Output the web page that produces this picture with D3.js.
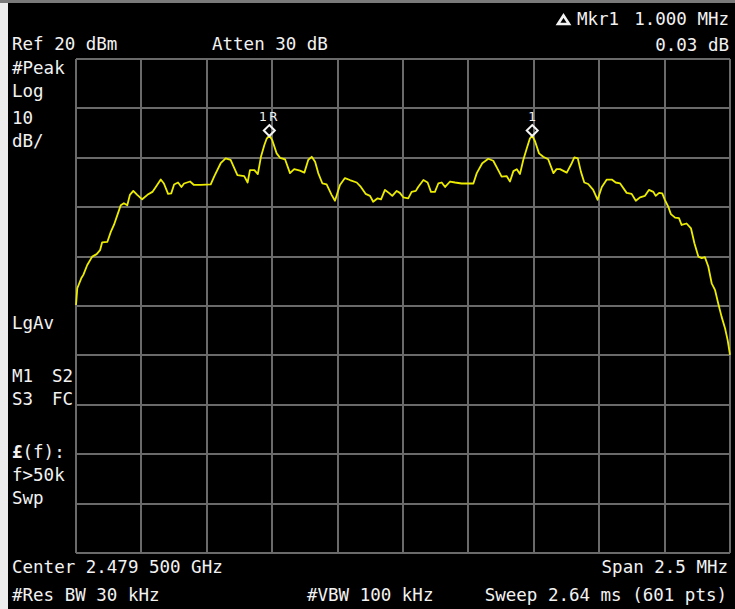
<!DOCTYPE html>
<html>
<head>
<meta charset="utf-8">
<script src="https://cdn.jsdelivr.net/npm/d3@7"></script>
<style>
html,body{margin:0;padding:0;background:#000;}
svg{display:block;}
text{font-family:"DejaVu Sans Mono","Liberation Mono",monospace;fill:#f2f2f2;white-space:pre;}
</style>
</head>
<body>
<svg id="chart" width="735" height="609"></svg>
<script>
// ---- data ----
// frequency offset from center (MHz), trace level (dBm)
const freqOffsetMHz = [
 -1.250,-1.245,-1.230,-1.222,-1.207,-1.188,-1.171,-1.158,-1.150,-1.130,-1.117,-1.105,-1.092,-1.079,-1.067,-1.054,-1.044,-1.031,-1.016,-0.997,
 -0.977,-0.958,-0.945,-0.926,-0.914,-0.898,-0.886,-0.875,-0.860,-0.847,-0.837,-0.814,-0.799,-0.773,-0.735,-0.722,-0.697,-0.678,-0.659,-0.633,
 -0.607,-0.594,-0.585,-0.568,-0.555,-0.543,-0.530,-0.521,-0.511,-0.500,-0.483,-0.470,-0.451,-0.432,-0.416,-0.394,-0.377,-0.362,-0.349,-0.336,
 -0.324,-0.308,-0.292,-0.273,-0.260,-0.241,-0.222,-0.203,-0.177,-0.161,-0.143,-0.126,-0.114,-0.097,-0.084,-0.069,-0.054,-0.041,-0.024,-0.012,
 0.001,0.020,0.033,0.049,0.058,0.078,0.094,0.107,0.122,0.135,0.148,0.161,0.180,0.199,0.224,0.244,0.269,0.282,0.303,0.326,
 0.345,0.364,0.377,0.396,0.409,0.422,0.435,0.447,0.460,0.473,0.485,0.494,0.505,0.520,0.536,0.555,0.575,0.587,0.600,0.626,
 0.645,0.655,0.668,0.680,0.693,0.708,0.727,0.744,0.760,0.779,0.798,0.813,0.830,0.855,0.874,0.890,0.906,0.925,0.940,0.957,
 0.966,0.979,0.991,1.001,1.014,1.024,1.040,1.055,1.065,1.084,1.101,1.114,1.129,1.142,1.154,1.167,1.180,1.193,1.205,1.218,
 1.231,1.241,1.250
];
const levelDbm = [
 -29.8,-26.4,-24.4,-23.7,-21.7,-20.0,-19.5,-18.7,-17.1,-17.0,-15.0,-13.6,-11.6,-9.6,-9.2,-9.6,-7.5,-6.7,-7.5,-8.4,
 -7.5,-6.9,-5.9,-4.4,-5.2,-7.3,-7.2,-5.4,-5.0,-5.9,-5.2,-4.8,-5.5,-5.5,-5.4,-3.8,-1.1,-0.1,-0.4,-3.5,
 -3.7,-5.0,-2.5,-2.5,-3.3,0.2,2.6,3.9,4.5,3.6,0.9,0.0,-0.3,-3.1,-2.3,-2.6,-3.0,-0.4,0.2,-0.8,
 -3.1,-5.2,-5.4,-7.5,-8.7,-5.5,-4.1,-4.5,-5.0,-5.9,-7.3,-7.7,-8.9,-8.2,-8.4,-6.5,-7.1,-7.7,-6.7,-7.1,
 -8.0,-8.2,-6.9,-6.7,-5.9,-4.5,-5.0,-6.9,-6.9,-5.2,-5.0,-5.9,-4.8,-5.0,-5.2,-5.2,-5.2,-3.1,-1.1,-0.2,
 -0.6,-2.5,-3.8,-3.7,-4.8,-2.7,-2.3,-3.3,-0.4,1.9,3.9,4.5,3.3,0.9,0.2,-0.3,-3.1,-2.3,-2.3,-3.0,
 -1.1,0.1,-0.1,-2.8,-5.0,-5.3,-6.5,-8.5,-5.9,-4.4,-4.4,-5.0,-5.2,-7.1,-7.3,-8.7,-8.0,-7.7,-6.5,-6.9,
 -7.7,-7.1,-7.2,-8.5,-9.9,-11.4,-12.1,-12.2,-13.6,-13.3,-14.3,-17.3,-20.0,-20.3,-20.1,-22.0,-25.4,-26.8,-29.5,-32.2,
 -34.5,-36.9,-39.9
];
const markerLabels = ["1R", "1"];
const markerFreqMHz = [-0.511, 0.494];
const markerLevelDbm = [4.5, 4.5];

const xGridMHz = [-1.25,-1.0,-0.75,-0.5,-0.25,0,0.25,0.5,0.75,1.0,1.25];
const yGridDbm = [20,10,0,-10,-20,-30,-40,-50,-60,-70,-80];

const leftLabels = ["#Peak","Log","10","dB/"];
const topLeftText = "Ref 20 dBm";
const attenText = "Atten 30 dB";
const mkrName = "Mkr1";
const mkrFreqText = "1.000 MHz";
const mkrValueText = "0.03 dB";
const centerText = "Center 2.479 500 GHz";
const spanText = "Span 2.5 MHz";
const resBwText = "#Res BW 30 kHz";
const vbwText = "#VBW 100 kHz";
const sweepText = "Sweep 2.64 ms (601 pts)";

// ---- drawing ----
const svg = d3.select("#chart");
const W = 735, H = 609;
const plot = {left:76, right:730, top:59, bottom:553};

svg.append("rect").attr("width",W).attr("height",H).attr("fill","#000");
// frame pieces
svg.append("rect").attr("x",0).attr("y",0).attr("width",W).attr("height",3).attr("fill","#7a7a7a");
svg.append("rect").attr("x",0).attr("y",3).attr("width",8).attr("height",H-3).attr("fill","#ececec");

const x = d3.scaleLinear().domain([-1.25,1.25]).range([plot.left, plot.right]);
const y = d3.scaleLinear().domain([-80,20]).range([plot.bottom, plot.top]);

const grid = svg.append("g").attr("stroke","#6a6a6a").attr("stroke-width",2).attr("shape-rendering","crispEdges");
grid.selectAll("line.v").data(xGridMHz).join("line").attr("class","v")
  .attr("x1",d=>Math.round(x(d))).attr("x2",d=>Math.round(x(d)))
  .attr("y1",plot.top).attr("y2",plot.bottom);
grid.selectAll("line.h").data(yGridDbm).join("line").attr("class","h")
  .attr("y1",d=>Math.round(y(d))).attr("y2",d=>Math.round(y(d)))
  .attr("x1",plot.left).attr("x2",plot.right);

// trace
const pts = freqOffsetMHz.map((f,i)=>[f, levelDbm[i]]);
const line = d3.line().x(d=>x(d[0])).y(d=>y(d[1]));
svg.append("path").datum(pts).attr("d",line)
  .attr("fill","none").attr("stroke","#ecec00").attr("stroke-width",1.8)
  .attr("stroke-linejoin","round");

// markers
const mk = svg.append("g");
markerLabels.forEach((lab,i)=>{
  const cx = x(markerFreqMHz[i]);
  const cy = y(markerLevelDbm[i]) - 5;
  const s = 5.5;
  mk.append("path")
    .attr("d",`M${cx},${cy-s} L${cx+s},${cy} L${cx},${cy+s} L${cx-s},${cy} Z`)
    .attr("fill","none").attr("stroke","#f4f4f4").attr("stroke-width",2);
  mk.append("text").attr("x",cx).attr("y",cy-10).attr("text-anchor","middle")
    .style("font-family","'DejaVu Sans',sans-serif").style("font-size","12.5px")
    .attr("letter-spacing", lab.length>1 ? "2px" : "0px")
    .text(lab);
});

// texts
const fs = "17.5px";
function txt(s, xx, yy, anchor){
  return svg.append("text").attr("x",xx).attr("y",yy)
    .attr("xml:space","preserve")
    .attr("text-anchor",anchor||"start").style("font-size",fs).text(s);
}
txt(topLeftText, 12, 50);
txt(attenText, 212, 50);
txt(mkrName, 577, 25);
txt(mkrFreqText, 729, 25, "end");
txt(mkrValueText, 729, 51, "end");
// delta triangle
svg.append("path").attr("d","M563.5,15.5 L569,24 L558,24 Z")
  .attr("fill","none").attr("stroke","#f2f2f2").attr("stroke-width",2.6);

const leftY = [74,97,124,147];
leftLabels.forEach((s,i)=>txt(s, 12, leftY[i]));
txt("LgAv", 12, 329);
txt("M1", 12, 382);
txt("S2", 73, 382, "end");
txt("S3", 12, 405);
txt("FC", 73, 405, "end");
const ft = txt("", 12, 458);
ft.append("tspan").style("font-weight","bold").text("£");
ft.append("tspan").text("(f):");
txt("f>50k", 12, 481);
txt("Swp", 12, 504);

txt(centerText, 12, 573);
txt(spanText, 728, 573, "end");
txt(resBwText, 12, 601);
txt(vbwText, 307, 601);
txt(sweepText, 727, 601, "end");
</script>
</body>
</html>
